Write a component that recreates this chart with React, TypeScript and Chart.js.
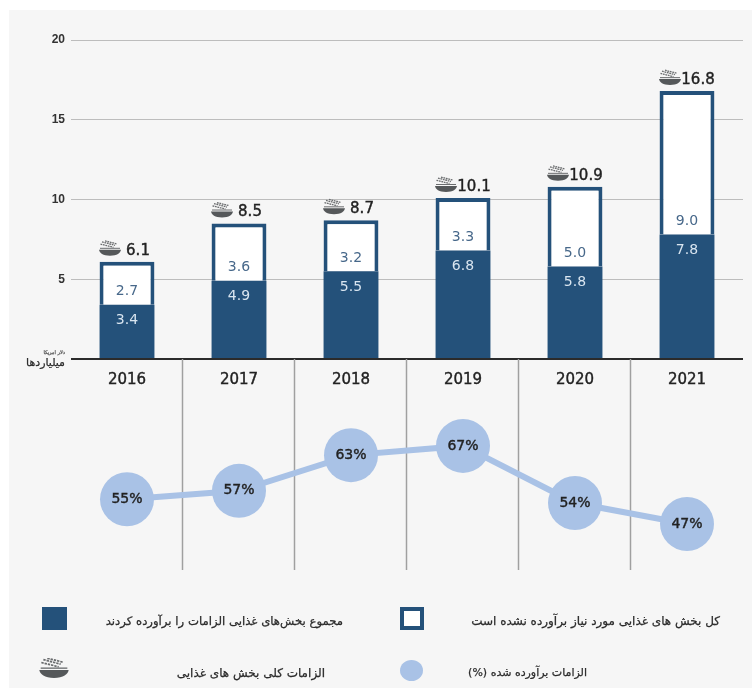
import React, { useEffect, useRef } from "react";
import { Chart, registerables } from "chart.js";

Chart.register(...registerables);

const years = ["2016", "2017", "2018", "2019", "2020", "2021"];
const metValues = [3.4, 4.9, 5.5, 6.8, 5.8, 7.8];
const unmetValues = [2.7, 3.6, 3.2, 3.3, 5.0, 9.0];
const totalValues = [6.1, 8.5, 8.7, 10.1, 10.9, 16.8];
const percentLabels = ["55%", "57%", "63%", "67%", "54%", "47%"];
// Height of each bubble as drawn in the picture, read on a percent-like scale.
const bubbleLevels = [54.1, 56.1, 64.6, 66.8, 53.2, 48.2];
const axisTicks = [5, 10, 15, 20];
const unitMain = "میلیاردها";
const unitSmall = "دلار امریکا";
const legendMet = "مجموع بخش‌های غذایی الزامات را برآورده کردند";
const legendUnmet = "کل بخش های غذایی مورد نیاز برآورده نشده است";
const legendTotal = "الزامات کلی بخش های غذایی";
const legendPercent = "الزامات برآورده شده (%)";

const DARK = "#24517a";
const BUBBLE = "#a9c2e6";
const NUM_FONT = "'DejaVu Sans'";
const BOWL = "M0 9H22C21.6 12 18 15 11 15C4 15 .4 12 0 9Z";
const RIM = "M1 7.6H21";
const GRAINS = "M3 1.2L16 4.6M1.5 3.4L14.5 6.6M6 0.2L18 3.2";

function drawIcon(ctx: CanvasRenderingContext2D, x: number, y: number) {
  ctx.save();
  ctx.translate(x, y);
  ctx.fillStyle = "#55585a";
  ctx.fill(new Path2D(BOWL));
  ctx.strokeStyle = "#6a6c6e";
  ctx.lineWidth = 1;
  ctx.stroke(new Path2D(RIM));
  ctx.lineWidth = 1.3;
  ctx.setLineDash([1.8, 0.7]);
  ctx.stroke(new Path2D(GRAINS));
  ctx.restore();
}

const annotate = {
  id: "annotate",
  beforeDatasetsDraw(chart: any) {
    const { ctx, scales } = chart;
    const xs = scales.x;
    const y0 = scales.y.getPixelForValue(0);
    ctx.save();
    ctx.strokeStyle = "#a0a0a0";
    ctx.lineWidth = 1.5;
    for (let i = 0; i < years.length - 1; i++) {
      const px = (xs.getPixelForValue(i) + xs.getPixelForValue(i + 1)) / 2 - 0.5;
      ctx.beginPath();
      ctx.moveTo(px, y0);
      ctx.lineTo(px, chart.chartArea.bottom);
      ctx.stroke();
    }
    ctx.restore();
  },
  afterDatasetsDraw(chart: any) {
    const { ctx } = chart;
    const met = chart.getDatasetMeta(0).data;
    const unmet = chart.getDatasetMeta(1).data;
    const line = chart.getDatasetMeta(2).data;
    ctx.save();
    ctx.textAlign = "center";
    ctx.textBaseline = "middle";
    years.forEach((_, i) => {
      const boundary = met[i].y;
      ctx.font = `14px ${NUM_FONT}`;
      ctx.fillStyle = "#d9e5f0";
      ctx.fillText(metValues[i].toFixed(1), met[i].x, boundary + 16);
      ctx.fillStyle = "#47688a";
      ctx.fillText(unmetValues[i].toFixed(1), met[i].x, boundary - 13);
      const top = unmet[i].y;
      ctx.font = `15px ${NUM_FONT}`;
      ctx.fillStyle = "#222222";
      ctx.strokeStyle = "#222222";
      ctx.lineWidth = 0.4;
      ctx.fillText(totalValues[i].toFixed(1), met[i].x + 11, top - 11);
      ctx.strokeText(totalValues[i].toFixed(1), met[i].x + 11, top - 11);
      drawIcon(ctx, met[i].x - 28, top - 21);
      ctx.font = `14px ${NUM_FONT}`;
      ctx.fillStyle = "#222222";
      ctx.fillText(percentLabels[i], line[i].x, line[i].y);
      ctx.strokeText(percentLabels[i], line[i].x, line[i].y);
    });
    ctx.restore();
  },
};

function BowlIcon({ left, top }: { left: number; top: number }) {
  return (
    <svg width={30} height={20} viewBox="0 0 22 15" style={{ position: "absolute", left, top }}>
      <path d={BOWL} fill="#55585a" />
      <path d={RIM} fill="none" stroke="#6a6c6e" strokeWidth={1} />
      <path d={GRAINS} fill="none" stroke="#6a6c6e" strokeWidth={1.3} strokeDasharray="1.8 .7" />
    </svg>
  );
}

function Label({ right, top, size, text, color = "#2c2c2c" }: any) {
  return (
    <div
      dir="rtl"
      style={{
        position: "absolute",
        right,
        top,
        fontSize: size,
        lineHeight: "16px",
        color,
        whiteSpace: "nowrap",
        fontFamily: "'DejaVu Sans'",
        WebkitTextStroke: "0.25px " + color,
      }}
    >
      {text}
    </div>
  );
}

export default function App() {
  const ref = useRef<HTMLCanvasElement>(null);
  useEffect(() => {
    const chart = new Chart(ref.current as HTMLCanvasElement, {
      type: "bar",
      data: {
        labels: years,
        datasets: [
          {
            label: legendMet,
            data: metValues,
            backgroundColor: DARK,
            borderColor: DARK,
            borderWidth: 0,
            stack: "a",
            order: 2,
          },
          {
            label: legendUnmet,
            data: unmetValues,
            backgroundColor: "#ffffff",
            borderColor: DARK,
            borderWidth: 4,
            stack: "a",
            order: 2,
          },
          {
            type: "line",
            label: legendPercent,
            data: bubbleLevels,
            yAxisID: "y2",
            borderColor: BUBBLE,
            borderWidth: 6,
            backgroundColor: BUBBLE,
            pointBackgroundColor: BUBBLE,
            pointBorderWidth: 0,
            pointRadius: 27,
            tension: 0,
            order: 1,
          },
        ] as any,
      },
      options: {
        animation: false,
        responsive: false,
        devicePixelRatio: 1,
        layout: { autoPadding: false, padding: { left: 0, right: 9, top: 40, bottom: 128 } },
        plugins: { legend: { display: false }, tooltip: { enabled: false } },
        datasets: { bar: { barPercentage: 0.49, categoryPercentage: 1 } },
        scales: {
          x: {
            stacked: true,
            position: { y: 0 } as any,
            afterFit: (s: any) => {
              s.height = 0;
              s.paddingLeft = 0;
              s.paddingRight = 0;
            },
            border: { display: false },
            grid: { display: false },
            ticks: {
              color: "#222222",
              textStrokeColor: "#222222",
              textStrokeWidth: 0.4,
              padding: 4,
              maxRotation: 0,
              font: { family: "'DejaVu Sans'", size: 15 },
            },
          },
          y: {
            stacked: true,
            min: -13.23,
            max: 20,
            afterFit: (s: any) => {
              s.width = 71;
              s.paddingTop = 0;
              s.paddingBottom = 0;
            },
            afterBuildTicks: (s: any) => {
              s.ticks = [0, ...axisTicks].map((value) => ({ value }));
            },
            border: { display: false },
            grid: {
              drawTicks: false,
              color: (c: any) => (c.tick?.value === 0 ? "#2b2b2b" : "#bdbdbd"),
              lineWidth: (c: any) => (c.tick?.value === 0 ? 2 : 1),
            },
            ticks: {
              padding: 6,
              color: "#333333",
              font: { family: "'Liberation Sans'", size: 12, weight: "bold" },
              callback: (v: any) => (Number(v) > 0 ? String(v) : ""),
            },
          },
          y2: { display: false, min: 37.25, max: 163.44 },
        },
      },
      plugins: [annotate],
    } as any);
    return () => chart.destroy();
  }, []);

  return (
    <div style={{ position: "absolute", left: 0, top: 0, width: 752, height: 698, background: "#ffffff", overflow: "hidden" }}>
      <div style={{ position: "absolute", left: 9, top: 10, width: 743, height: 678, background: "#f6f6f6" }} />
      <canvas ref={ref} width={752} height={698} style={{ position: "absolute", left: 0, top: 0, display: "block" }} />
      <Label right={752 - 65} top={344} size={5} text={unitSmall} color="#555555" />
      <Label right={752 - 65} top={355} size={11} text={unitMain} />
      <div style={{ position: "absolute", left: 42, top: 607, width: 25, height: 23, background: DARK }} />
      <div style={{ position: "absolute", left: 400, top: 607, width: 24, height: 23, background: "#fff", border: `4px solid ${DARK}`, boxSizing: "border-box" }} />
      <div style={{ position: "absolute", left: 400, top: 660, width: 23, height: 21, borderRadius: "50%", background: BUBBLE }} />
      <BowlIcon left={39} top={658} />
      <Label right={752 - 343} top={613} size={11.7} text={legendMet} />
      <Label right={752 - 720} top={613} size={12} text={legendUnmet} />
      <Label right={752 - 325} top={665} size={12} text={legendTotal} />
      <Label right={752 - 587} top={665} size={11} text={legendPercent} />
    </div>
  );
}
